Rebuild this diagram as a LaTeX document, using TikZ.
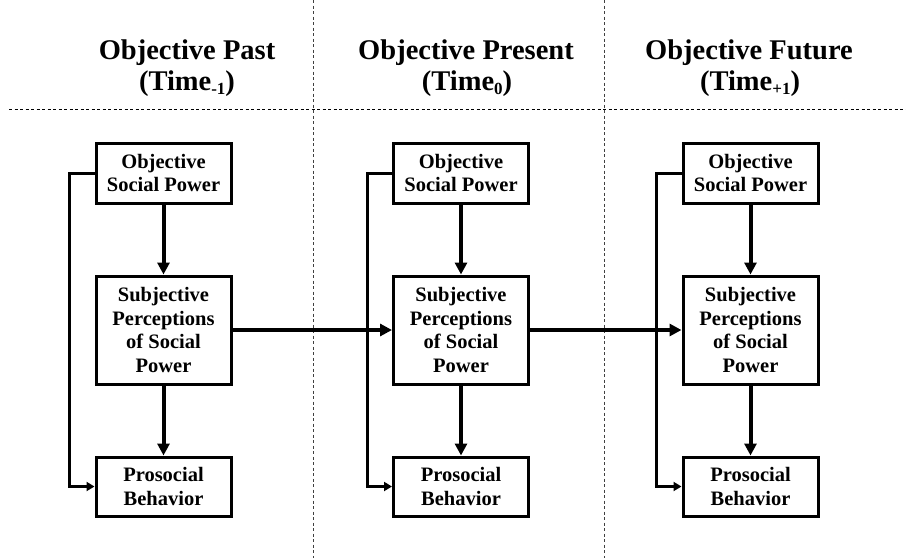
\documentclass[tikz,border=0pt]{standalone}
\usepackage{fontspec}
\setmainfont{Liberation Serif}
\usetikzlibrary{arrows.meta}
\begin{document}
\begin{tikzpicture}[x=1pt,y=-1pt,
  boxnode/.style={draw, line width=3pt, rectangle, minimum width=135pt,
    inner sep=0pt, align=center,
    font=\fontsize{20.5}{23.5}\selectfont\bfseries},
  headnode/.style={font=\fontsize{28.5}{31}\selectfont\bfseries, inner sep=0pt, anchor=base},
  mainarrow/.style={line width=4pt, -{Triangle[length=12pt,width=12pt]}},
  backarrow/.style={line width=3pt, -{Triangle[length=8pt,width=9pt]}},
  sepline/.style={dashed, dash pattern=on 3pt off 2.5pt, line width=1pt, black!75}]
\useasboundingbox (0,0) rectangle (906,558);

% column separators and header rule
\coordinate (v1t) at (313,0);   \coordinate (v1b) at (313,558);
\coordinate (v2t) at (604,0);   \coordinate (v2b) at (604,558);
\coordinate (hl) at (9,109);    \coordinate (hr) at (906,109);
\draw[sepline] (v1t) -- (v1b);
\draw[sepline] (v2t) -- (v2b);
\draw[sepline, black] (hl) -- (hr);

% headers
\newcommand{\lowsub}[1]{\raisebox{-0.35ex}{\fontsize{17}{17}\selectfont #1}}
\node[headnode] (h1a) at (187,59) {Objective Past};
\node[headnode] (h1b) at (187,90) {(Time\lowsub{-1})};
\node[headnode] (h2a) at (466,59) {Objective Present};
\node[headnode] (h2b) at (467,90) {(Time\lowsub{0})};
\node[headnode] (h3a) at (749,59) {Objective Future};
\node[headnode] (h3b) at (750,90) {(Time\lowsub{+1})};

% boxes of each time slice
\foreach \c/\x in {1/163.5, 2/461, 3/750.5} {
  \node[boxnode, minimum height=60pt]  (osp\c) at (\x,173)   {Objective\\Social Power};
  \node[boxnode, minimum height=108pt] (sp\c)  at (\x,330)   {Subjective\\Perceptions\\of Social\\Power};
  \node[boxnode, minimum height=59pt]  (pb\c)  at (\x,486.5) {Prosocial\\Behavior};
  \draw[mainarrow] (osp\c) -- (sp\c);
  \draw[mainarrow] (sp\c) -- (pb\c);
  \draw[backarrow] (osp\c.west) -- ++(-25,0) |- (pb\c.west);
}

% links across time
\draw[mainarrow] (sp1.east) -- (sp2.west);
\draw[mainarrow] (sp2.east) -- (sp3.west);
\end{tikzpicture}
\end{document}
